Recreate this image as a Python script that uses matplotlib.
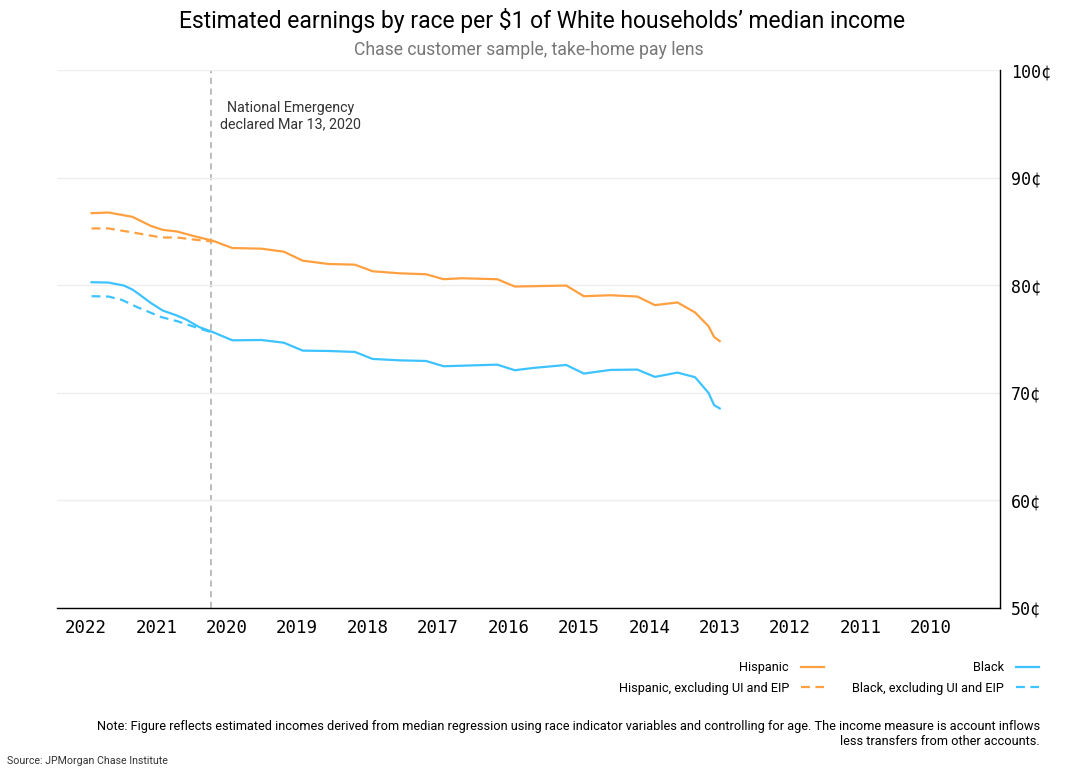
import matplotlib
matplotlib.use("Agg")
import matplotlib.pyplot as plt

# reference is drawn mirrored: time runs right-to-left, value axis on the right
plt.rcParams['font.family'] = ['Roboto', 'DejaVu Sans']

ORANGE = "#FFA040"
BLUE = "#3DC3FF"

hisp_years = [2021.92, 2021.68, 2021.34, 2021.08, 2020.91, 2020.71, 2020.45, 2020.20,
              2019.92, 2019.51, 2019.19, 2018.92, 2018.56, 2018.18, 2017.93, 2017.55,
              2017.17, 2016.92, 2016.66, 2016.16, 2015.91, 2015.18, 2014.93, 2014.55,
              2014.17, 2013.92, 2013.60, 2013.35, 2013.16, 2013.08, 2013.00]
hisp_vals = [86.70, 86.76, 86.36, 85.52, 85.15, 85.00, 84.54, 84.14,
             83.46, 83.40, 83.12, 82.28, 81.98, 81.91, 81.30, 81.11,
             81.02, 80.56, 80.65, 80.56, 79.88, 79.97, 78.98, 79.07,
             78.95, 78.15, 78.40, 77.47, 76.20, 75.19, 74.81]

hisp_ex_years = [2021.92, 2021.68, 2021.34, 2020.93, 2020.71, 2020.45, 2020.20]
hisp_ex_vals = [85.28, 85.28, 84.91, 84.44, 84.44, 84.23, 84.07]

black_years = [2021.92, 2021.68, 2021.46, 2021.34, 2021.24, 2021.08, 2020.91, 2020.71,
               2020.58, 2020.39, 2020.20, 2019.92, 2019.51, 2019.19, 2018.92, 2018.56,
               2018.18, 2017.93, 2017.55, 2017.17, 2016.92, 2016.16, 2015.91, 2015.65,
               2015.18, 2014.93, 2014.55, 2014.17, 2013.92, 2013.60, 2013.35, 2013.16,
               2013.08, 2013.00]
black_vals = [80.28, 80.25, 79.97, 79.60, 79.14, 78.36, 77.65, 77.19,
              76.82, 76.11, 75.65, 74.88, 74.91, 74.66, 73.92, 73.89,
              73.80, 73.15, 73.02, 72.96, 72.47, 72.62, 72.10, 72.31,
              72.59, 71.79, 72.13, 72.16, 71.48, 71.88, 71.45, 70.00,
              68.86, 68.55]

black_ex_years = [2021.92, 2021.68, 2021.49, 2021.27, 2020.93, 2020.71, 2020.45, 2020.20]
black_ex_vals = [78.98, 78.95, 78.64, 77.96, 77.04, 76.67, 76.11, 75.59]

year_ticks = list(range(2010, 2023))
cent_ticks = [50, 60, 70, 80, 90, 100]
emergency = 2020.23

fig = plt.figure(figsize=(10.7, 7.7), dpi=100)
ax = fig.add_axes([0.0533, 0.2104, 0.8813, 0.6986])

l_b, = ax.plot(black_years, black_vals, color=BLUE, lw=1.6, label="Black")
l_bx, = ax.plot(black_ex_years, black_ex_vals, color=BLUE, lw=1.6, ls=(0, (4, 2.5)),
                label="Black, excluding UI and EIP")
l_h, = ax.plot(hisp_years, hisp_vals, color=ORANGE, lw=1.6, label="Hispanic")
l_hx, = ax.plot(hisp_ex_years, hisp_ex_vals, color=ORANGE, lw=1.6, ls=(0, (4, 2.5)),
                label="Hispanic, excluding UI and EIP")

ax.axvline(emergency, color="#AAAAAA", lw=1.1, ls=(0, (4, 3)), zorder=0)
ax.text(2019.1, 95.7, "National Emergency\ndeclared Mar 13, 2020",
        ha="center", va="center", multialignment="center", fontsize=10.3, color="#333333")

ax.set_xlim(2022.41, 2009.02)
ax.set_ylim(50, 100)
ax.set_xticks(year_ticks)
ax.set_xticklabels([str(y) for y in year_ticks], family="DejaVu Sans Mono", fontsize=12.5)
ax.set_yticks(cent_ticks)
ax.set_yticklabels([f"{c}¢" for c in cent_ticks], family="DejaVu Sans Mono", fontsize=12)
ax.yaxis.tick_right()
ax.tick_params(length=0, pad=8)
ax.grid(axis="y", color="#EEEEEE", lw=1)
ax.set_axisbelow(True)
for side in ["left", "top"]:
    ax.spines[side].set_visible(False)
ax.spines["right"].set_linewidth(1)
ax.spines["bottom"].set_linewidth(1)

fig.text(0.507, 0.974, "Estimated earnings by race per $1 of White households\u2019 median income",
         ha="center", va="center", fontsize=16.5)
fig.text(0.494, 0.935, "Chase customer sample, take-home pay lens",
         ha="center", va="center", fontsize=12.7, color="#777777")

fig.legend([l_h, l_hx, l_b, l_bx], [l.get_label() for l in [l_h, l_hx, l_b, l_bx]],
           ncol=2, markerfirst=False, frameon=False, fontsize=9.2,
           loc="upper right", bbox_to_anchor=(0.976, 0.148), borderaxespad=0,
           handlelength=1.8, handletextpad=0.95, columnspacing=2.2, labelspacing=0.6)

fig.text(0.972, 0.0474,
         "Note: Figure reflects estimated incomes derived from median regression using race indicator "
         "variables and controlling for age. The income measure is account inflows\n"
         "less transfers from other accounts.",
         ha="right", va="center", multialignment="right", fontsize=9.2)
fig.text(0.007, 0.012, "Source: JPMorgan Chase Institute", ha="left", va="center",
         fontsize=7.7, color="#333333")

fig.savefig("out.png", dpi=100)
